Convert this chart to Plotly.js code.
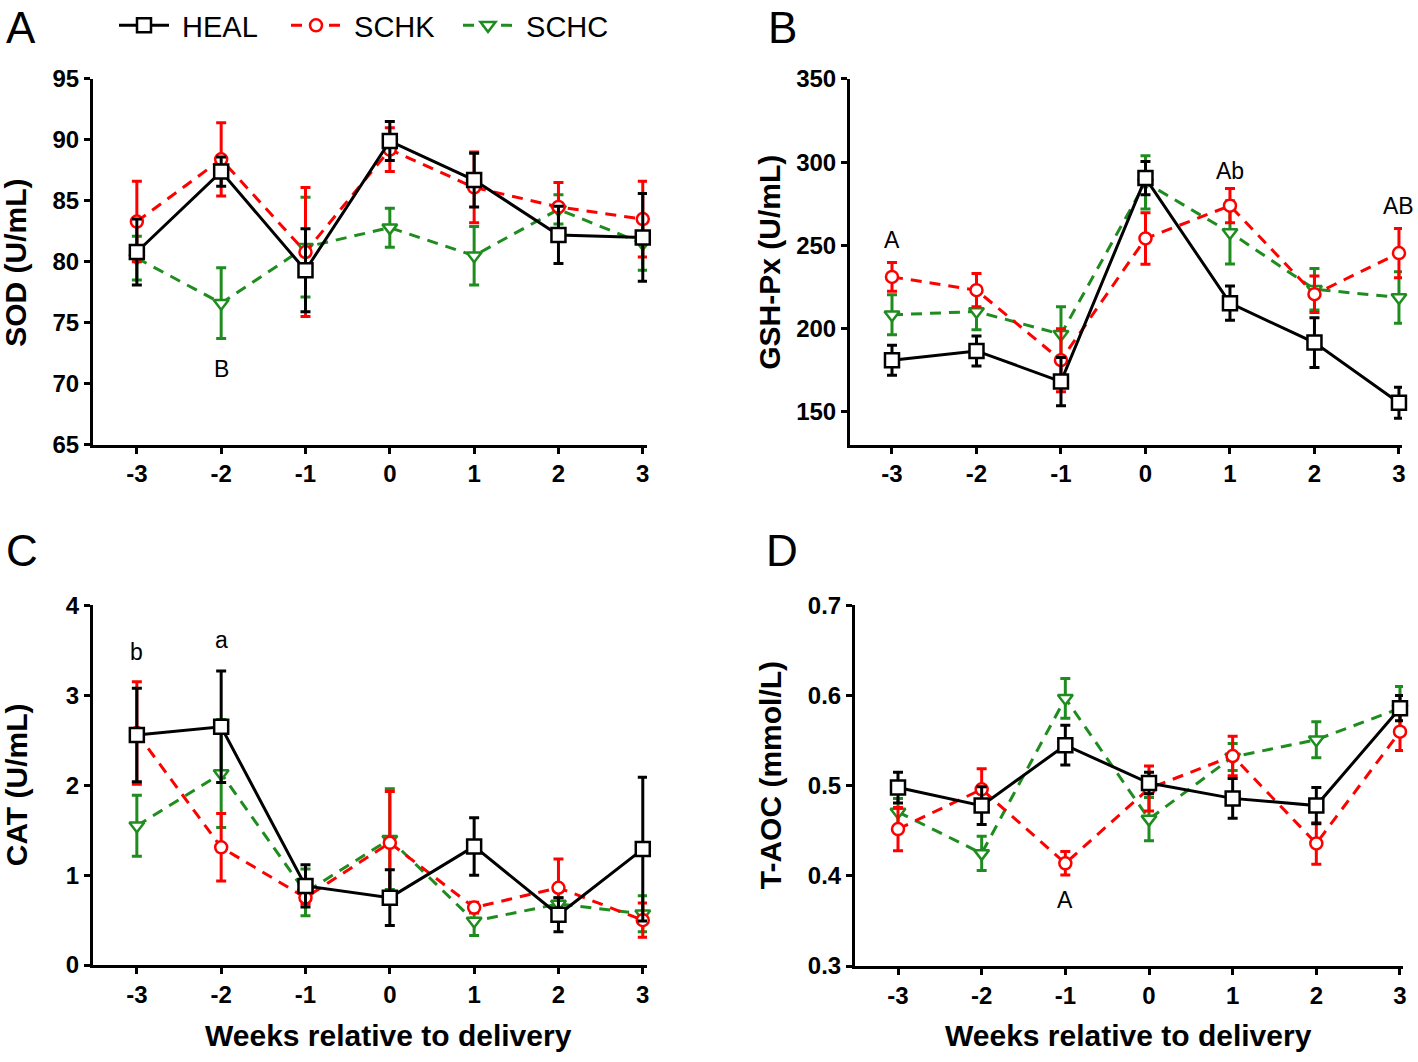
<!DOCTYPE html>
<html>
<head>
<meta charset="utf-8">
<script src="https://cdn.plot.ly/plotly-3.0.1.min.js"></script>
<style>html,body{margin:0;padding:0;background:#fff;}#chart{width:1418px;height:1062px;}</style>
</head>
<body>
<div id="chart"></div>
<script>
// ---- data ----
const weeks = [-3, -2, -1, 0, 1, 2, 3];
const groups = ["HEAL", "SCHK", "SCHC"];

// SOD (U/mL)
const sodHeal = [80.8, 87.4, 79.3, 89.9, 86.7, 82.2, 82.0];
const sodHealErr = [2.7, 1.2, 3.4, 1.6, 2.2, 2.35, 3.6];
const sodSchk = [83.3, 88.4, 80.8, 89.2, 86.1, 84.5, 83.5];
const sodSchkErr = [3.3, 3.0, 5.3, 1.8, 2.9, 2.0, 3.1];
const sodSchc = [80.3, 76.6, 81.2, 82.8, 80.5, 84.3, 81.5];
const sodSchcErr = [1.8, 2.9, 4.1, 1.6, 2.4, 1.2, 2.2];

// GSH-Px (U/mL)
const gshHeal = [180.9, 186.5, 168.1, 290.4, 215.2, 191.5, 155.4];
const gshHealErr = [9, 9, 14.5, 10, 10.3, 15, 9.3];
const gshSchk = [231.0, 223.0, 180.9, 254.1, 273.8, 220.6, 245.3];
const gshSchkErr = [8.7, 10, 19, 15.5, 10.3, 11, 14.8];
const gshSchc = [208.2, 210.2, 196.5, 287.8, 257.7, 223.6, 218.6];
const gshSchcErr = [12, 11, 16.5, 16, 19, 12.5, 15.5];

// CAT (U/mL)
const catHeal = [2.56, 2.65, 0.88, 0.75, 1.32, 0.56, 1.29];
const catHealErr = [0.52, 0.62, 0.235, 0.31, 0.32, 0.19, 0.8];
const catSchk = [2.58, 1.31, 0.75, 1.36, 0.64, 0.86, 0.5];
const catSchkErr = [0.57, 0.375, 0.07, 0.57, 0.06, 0.32, 0.19];
const catSchc = [1.55, 2.13, 0.81, 1.40, 0.49, 0.68, 0.57];
const catSchcErr = [0.34, 0.6, 0.26, 0.56, 0.16, 0.07, 0.2];

// T-AOC (mmol/L)
const taocHeal = [0.498, 0.478, 0.545, 0.503, 0.486, 0.478, 0.586];
const taocHealErr = [0.017, 0.021, 0.022, 0.012, 0.022, 0.02, 0.014];
const taocSchk = [0.452, 0.496, 0.414, 0.497, 0.533, 0.436, 0.56];
const taocSchkErr = [0.024, 0.023, 0.013, 0.025, 0.022, 0.023, 0.021];
const taocSchc = [0.471, 0.425, 0.597, 0.463, 0.532, 0.551, 0.586];
const taocSchcErr = [0.015, 0.019, 0.022, 0.024, 0.015, 0.02, 0.024];

// significance letters
const sigWeeks = [-2, -3, 1, 3, -3, -2, -1];
const sigValues = [71.2, 253, 294.7, 273.7, 3.48, 3.62, 0.373];
const sigTexts = ["B", "A", "Ab", "AB", "b", "a", "A"];
const sigPanels = ["A", "B", "B", "B", "C", "C", "D"];

const panelLetters = ["A", "B", "C", "D"];
const yTitles = ["SOD (U/mL)", "GSH-Px (U/mL)", "CAT (U/mL)", "T-AOC (mmol/L)"];
const xTitle = "Weeks relative to delivery";

// ---- styling ----
const FONT = "Liberation Sans, Arial, Helvetica, sans-serif";
const W = 1418, H = 1062;
const px = v => v / W;
const py = v => 1 - v / H;

const styles = {
  HEAL: {color: "#000000", dash: "solid", symbol: "square", size: 14, rank: 1},
  SCHK: {color: "#ff0000", dash: "11px,8px", symbol: "circle", size: 12, rank: 2},
  SCHC: {color: "#1f8c1f", dash: "11px,8px", symbol: "triangle-down", size: 13, rank: 3}
};

const panels = [
  {ax: "", data: {HEAL: [sodHeal, sodHealErr], SCHK: [sodSchk, sodSchkErr], SCHC: [sodSchc, sodSchcErr]}},
  {ax: "2", data: {HEAL: [gshHeal, gshHealErr], SCHK: [gshSchk, gshSchkErr], SCHC: [gshSchc, gshSchcErr]}},
  {ax: "3", data: {HEAL: [catHeal, catHealErr], SCHK: [catSchk, catSchkErr], SCHC: [catSchc, catSchcErr]}},
  {ax: "4", data: {HEAL: [taocHeal, taocHealErr], SCHK: [taocSchk, taocSchkErr], SCHC: [taocSchc, taocSchcErr]}}
];

const traces = [];
const drawOrder = ["SCHC", "SCHK", "HEAL"];
panels.forEach((p, i) => {
  drawOrder.forEach(g => {
    const s = styles[g];
    traces.push({
      type: "scatter", mode: "lines+markers",
      x: weeks, y: p.data[g][0],
      xaxis: "x" + p.ax, yaxis: "y" + p.ax,
      name: "\u00a0" + g, legendgroup: g, legendrank: s.rank, showlegend: i === 0,
      cliponaxis: false,
      line: {color: s.color, width: 3, dash: s.dash},
      marker: {symbol: s.symbol, size: s.size, color: "#ffffff", line: {color: s.color, width: 2.5}},
      error_y: {type: "data", array: p.data[g][1], visible: true, color: s.color, thickness: 3, width: 5}
    });
  });
});

function xAxis(domain, range) {
  return {
    domain: domain, range: range, tickvals: weeks, ticktext: weeks.map(String),
    showline: true, linewidth: 3, linecolor: "#000", ticks: "outside", ticklen: 6, tickwidth: 3, tickcolor: "#000",
    showgrid: false, zeroline: false, fixedrange: true,
    tickfont: {family: FONT, size: 24, color: "#000", weight: "bold"}
  };
}
function yAxis(domain, range, vals) {
  return {
    domain: domain, range: range, tickvals: vals,
    showline: true, linewidth: 3, linecolor: "#000", ticks: "outside", ticklen: 6, tickwidth: 3, tickcolor: "#000",
    showgrid: false, zeroline: false, fixedrange: true,
    tickfont: {family: FONT, size: 24, color: "#000", weight: "bold"}
  };
}

const layout = {
  width: W, height: H,
  margin: {l: 0, r: 0, t: 0, b: 0},
  paper_bgcolor: "#fff", plot_bgcolor: "rgba(0,0,0,0)",
  font: {family: FONT, color: "#000"},
  showlegend: true,
  legend: {orientation: "h", x: px(114), y: py(25), xanchor: "left", yanchor: "middle",
           font: {family: FONT, size: 29, color: "#000"}, itemwidth: 50,
           entrywidth: 107, entrywidthmode: "pixels", bgcolor: "rgba(0,0,0,0)"},
  xaxis: Object.assign(xAxis([px(93), px(647)], [-3.52, 3.05]), {anchor: "y"}),
  yaxis: Object.assign(yAxis([py(444), py(78)], [65, 95], [65, 70, 75, 80, 85, 90, 95]), {anchor: "x"}),
  xaxis2: Object.assign(xAxis([px(850), px(1402)], [-3.497, 3.036]), {anchor: "y2"}),
  yaxis2: Object.assign(yAxis([py(444), py(78)], [130.2, 350], [150, 200, 250, 300, 350]), {anchor: "x2"}),
  xaxis3: Object.assign(xAxis([px(93), px(647)], [-3.52, 3.05]), {anchor: "y3"}),
  yaxis3: Object.assign(yAxis([py(965), py(605)], [0, 4], [0, 1, 2, 3, 4]), {anchor: "x3"}),
  xaxis4: Object.assign(xAxis([px(855), px(1403)], [-3.514, 3.036]), {anchor: "y4"}),
  yaxis4: Object.assign(yAxis([py(966), py(605)], [0.3, 0.7], [0.3, 0.4, 0.5, 0.6, 0.7]), {anchor: "x4"}),
  annotations: []
};

// panel letters
const letterPos = [[21, 27], [782, 27], [22, 550], [782, 550]];
panelLetters.forEach((t, i) => {
  layout.annotations.push({text: t, xref: "paper", yref: "paper", x: px(letterPos[i][0]), y: py(letterPos[i][1]),
    xanchor: "center", yanchor: "middle", showarrow: false, font: {family: FONT, size: 44, color: "#000"}});
});
// y titles
const yTitlePos = [[16, 262], [770, 262], [16, 785], [770, 775]];
yTitles.forEach((t, i) => {
  layout.annotations.push({text: t, xref: "paper", yref: "paper", x: px(yTitlePos[i][0]), y: py(yTitlePos[i][1]),
    xanchor: "center", yanchor: "middle", textangle: -90, showarrow: false,
    font: {family: FONT, size: 30, color: "#000", weight: "bold"}});
});
// x titles
[[388, 1035], [1128, 1035]].forEach(p => {
  layout.annotations.push({text: xTitle, xref: "paper", yref: "paper", x: px(p[0]), y: py(p[1]),
    xanchor: "center", yanchor: "middle", showarrow: false,
    font: {family: FONT, size: 30, color: "#000", weight: "bold"}});
});
// significance letters
const axMap = {A: "", B: "2", C: "3", D: "4"};
sigTexts.forEach((t, i) => {
  const a = axMap[sigPanels[i]];
  layout.annotations.push({text: t, xref: "x" + a, yref: "y" + a, x: sigWeeks[i], y: sigValues[i],
    xanchor: "center", yanchor: "middle", showarrow: false,
    font: {family: FONT, size: 23, color: "#000"}});
});

Plotly.newPlot("chart", traces, layout, {displayModeBar: false, staticPlot: true});
</script>
</body>
</html>
